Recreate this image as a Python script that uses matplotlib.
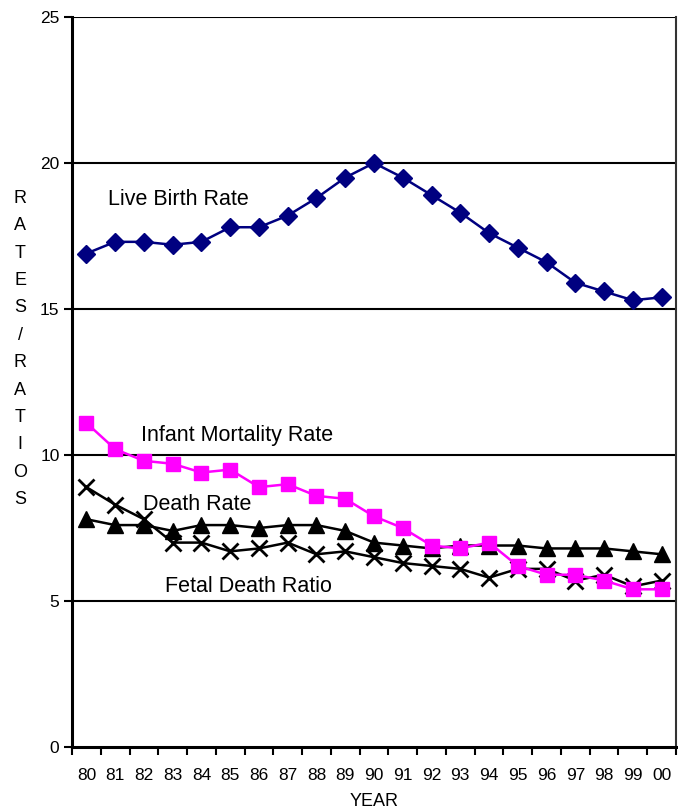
import matplotlib
matplotlib.use("Agg")
import matplotlib.pyplot as plt
import numpy as np

years = ["80", "81", "82", "83", "84", "85", "86", "87", "88", "89", "90",
         "91", "92", "93", "94", "95", "96", "97", "98", "99", "00"]
live_birth = [16.9, 17.3, 17.3, 17.2, 17.3, 17.8, 17.8, 18.2, 18.8, 19.5, 20.0,
              19.5, 18.9, 18.3, 17.6, 17.1, 16.6, 15.9, 15.6, 15.3, 15.4]
infant_mort = [11.1, 10.2, 9.8, 9.7, 9.4, 9.5, 8.9, 9.0, 8.6, 8.5, 7.9,
               7.5, 6.9, 6.8, 7.0, 6.2, 5.9, 5.9, 5.7, 5.4, 5.4]
death_rate = [7.8, 7.6, 7.6, 7.4, 7.6, 7.6, 7.5, 7.6, 7.6, 7.4, 7.0,
              6.9, 6.8, 6.9, 6.9, 6.9, 6.8, 6.8, 6.8, 6.7, 6.6]
fetal_death = [8.9, 8.3, 7.8, 7.0, 7.0, 6.7, 6.8, 7.0, 6.6, 6.7, 6.5,
               6.3, 6.2, 6.1, 5.8, 6.1, 6.1, 5.7, 5.9, 5.5, 5.7]
yticks = [0, 5, 10, 15, 20, 25]
ylabel_text = "RATES / RATIOS"

plt.rcParams['font.family'] = ['Liberation Sans', 'DejaVu Sans']

fig = plt.figure(figsize=(6.78, 8.08), dpi=100)
ax = fig.add_axes([72/678, 61/808, 604/678, 730/808])

x = np.arange(len(years))

ax.plot(x, live_birth, color='#000080', lw=1.8, marker='D', ms=9, zorder=5)
ax.plot(x, infant_mort, color='#FF00FF', lw=1.8, marker='s', ms=10, zorder=4)
ax.plot(x, death_rate, color='black', lw=1.8, marker='^', ms=11, zorder=3)
ax.plot(x, fetal_death, color='black', lw=1.8, marker='x', ms=11, mew=2, zorder=3)

ax.set_xlim(-0.5, len(years) - 0.5)
ax.set_ylim(0, 25)

for v in yticks[1:]:
    ax.axhline(v, color='black', lw=1.5, zorder=1)

ax.set_yticks(yticks)
ax.set_yticklabels([str(v) for v in yticks], fontsize=12.5)
ax.tick_params(axis='y', direction='out', length=6, width=1.5, pad=3)

ax.set_xticks(np.arange(len(years) + 1) - 0.5)
ax.set_xticklabels([])
ax.tick_params(axis='x', which='major', direction='out', length=6, width=1.5)
ax.set_xticks(x, minor=True)
ax.set_xticklabels(years, minor=True, fontsize=12.5)
ax.tick_params(axis='x', which='minor', length=0, pad=15)

ax.spines['left'].set_linewidth(2.2)
ax.spines['bottom'].set_linewidth(2.2)
ax.spines['top'].set_visible(False)
ax.spines['right'].set_linewidth(1.5)
ax.spines['right'].set_color('#333333')

ax.set_xlabel("YEAR", fontsize=13, labelpad=7)

fig.text(20/678, 1 - 349/808, "\n".join(list(ylabel_text.replace(" ", ""))),
         ha='center', va='center', fontsize=13, linespacing=1.8)

ax.text(0.75, 18.76, "Live Birth Rate", fontsize=15.5, ha='left', va='center')
ax.text(1.9, 10.67, "Infant Mortality Rate", fontsize=15.5, ha='left', va='center')
ax.text(1.97, 8.3, "Death Rate", fontsize=15.5, ha='left', va='center')
ax.text(2.73, 5.49, "Fetal Death Ratio", fontsize=15.5, ha='left', va='center')

fig.savefig("out.png", dpi=100)
